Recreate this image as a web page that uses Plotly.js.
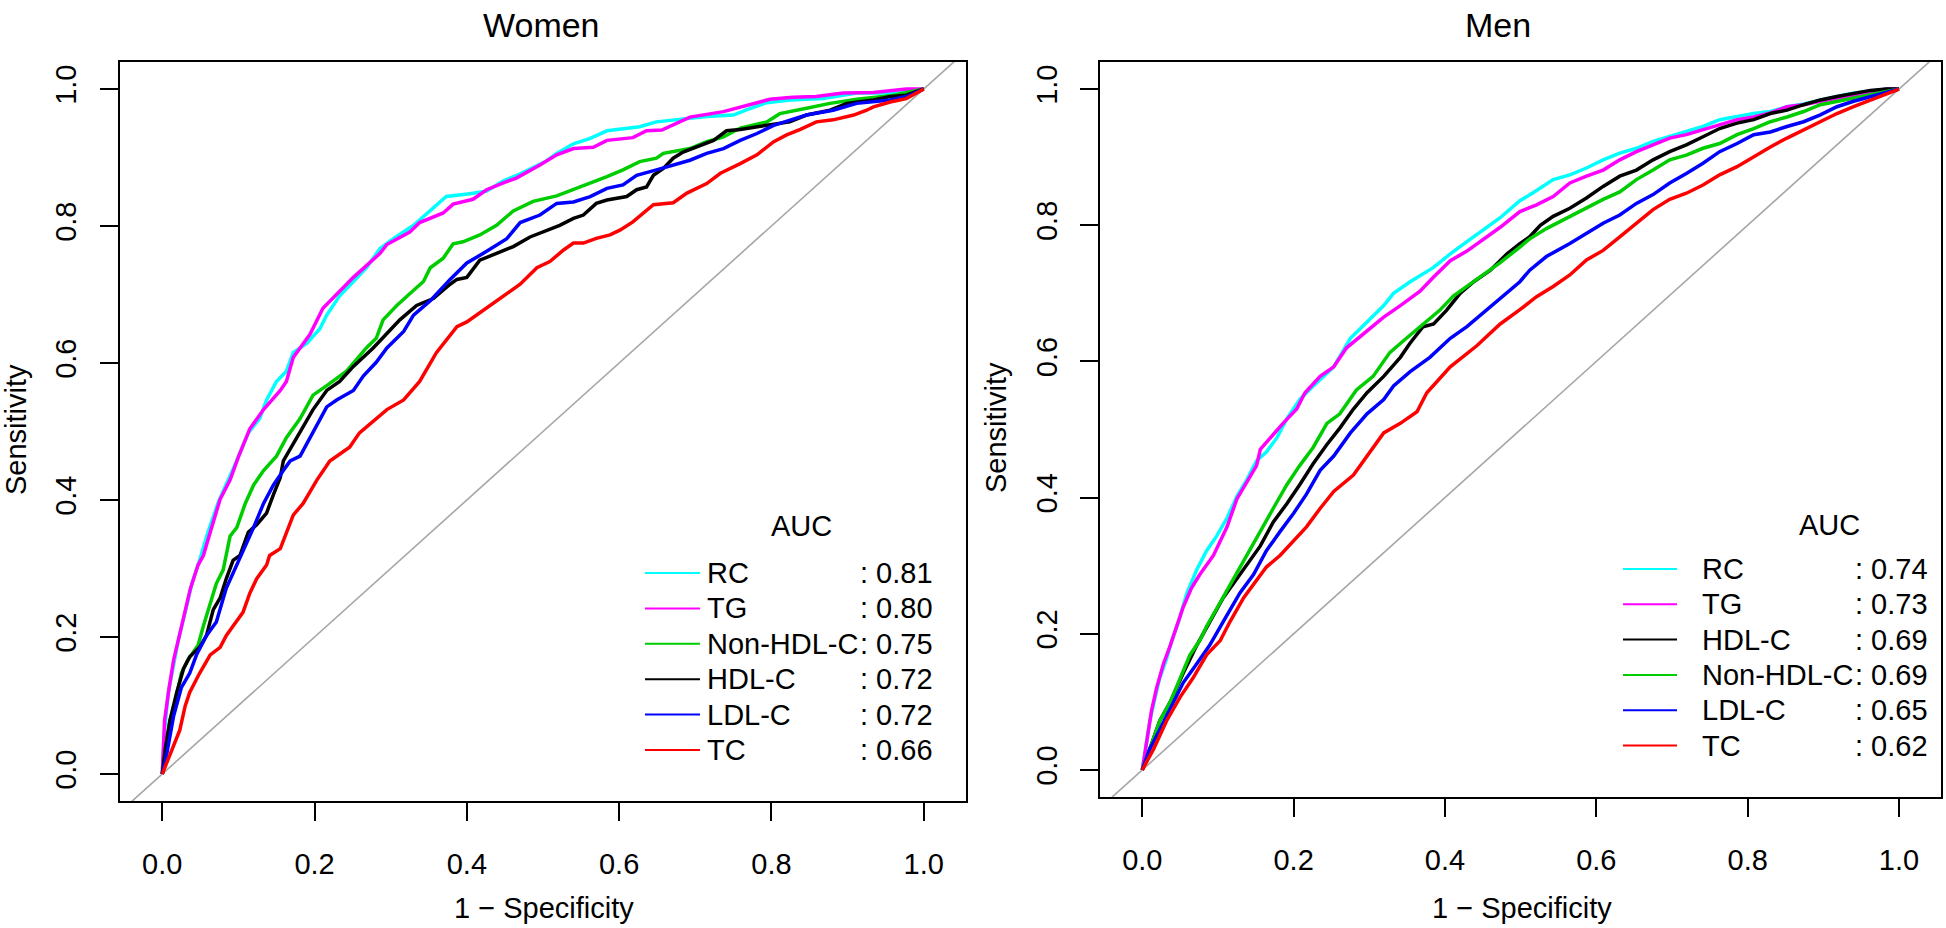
<!DOCTYPE html>
<html>
<head>
<meta charset="utf-8">
<script src="https://cdn.plot.ly/plotly-3.0.1.min.js"></script>
<style>
  html, body { margin: 0; padding: 0; background: #fff; }
  #roc { width: 1946px; height: 928px; }
</style>
</head>
<body>
<div id="roc"></div>
<script>
// ROC CURVES, WOMEN AND MEN

// legend order = drawing order
var womenNames = ['RC', 'TG', 'Non-HDL-C', 'HDL-C', 'LDL-C', 'TC'];
var womenAUC = [0.81, 0.80, 0.75, 0.72, 0.72, 0.66];
var menNames = ['RC', 'TG', 'HDL-C', 'Non-HDL-C', 'LDL-C', 'TC'];
var menAUC = [0.74, 0.73, 0.69, 0.69, 0.65, 0.62];

var tickVals = [0, 0.2, 0.4, 0.6, 0.8, 1.0];

// women: 1 - specificity (x) and sensitivity (y)
var wRC_x = [0, 0.003, 0.008, 0.015, 0.021, 0.030, 0.039, 0.049, 0.060, 0.074, 0.084, 0.095, 0.113, 0.128, 0.137, 0.150, 0.163, 0.172, 0.190, 0.207, 0.216, 0.233, 0.251, 0.268, 0.286, 0.303, 0.330, 0.352, 0.373, 0.404, 0.426, 0.448, 0.470, 0.503, 0.518, 0.540, 0.562, 0.584, 0.605, 0.627, 0.649, 0.671, 0.693, 0.715, 0.750, 0.768, 0.794, 0.824, 0.868, 0.912, 0.956, 1.0];
var wRC_y = [0, 0.064, 0.119, 0.160, 0.195, 0.236, 0.278, 0.312, 0.353, 0.398, 0.422, 0.450, 0.498, 0.519, 0.546, 0.573, 0.588, 0.615, 0.629, 0.650, 0.670, 0.698, 0.719, 0.739, 0.767, 0.781, 0.801, 0.822, 0.843, 0.847, 0.851, 0.866, 0.876, 0.894, 0.906, 0.920, 0.928, 0.939, 0.942, 0.945, 0.952, 0.955, 0.957, 0.960, 0.962, 0.970, 0.980, 0.984, 0.986, 0.994, 0.994, 1.0];

var wTG_x = [0, 0.003, 0.009, 0.015, 0.021, 0.028, 0.037, 0.047, 0.054, 0.063, 0.076, 0.089, 0.100, 0.115, 0.133, 0.155, 0.163, 0.172, 0.194, 0.211, 0.229, 0.251, 0.286, 0.295, 0.325, 0.338, 0.369, 0.382, 0.408, 0.426, 0.448, 0.465, 0.496, 0.518, 0.540, 0.566, 0.584, 0.618, 0.636, 0.656, 0.693, 0.737, 0.798, 0.828, 0.859, 0.894, 0.934, 0.956, 0.977, 1.0];
var wTG_y = [0, 0.078, 0.126, 0.167, 0.195, 0.229, 0.271, 0.305, 0.319, 0.353, 0.401, 0.429, 0.463, 0.504, 0.532, 0.560, 0.573, 0.608, 0.642, 0.680, 0.701, 0.725, 0.760, 0.773, 0.791, 0.805, 0.819, 0.832, 0.839, 0.853, 0.863, 0.870, 0.889, 0.904, 0.913, 0.915, 0.925, 0.929, 0.939, 0.940, 0.959, 0.967, 0.985, 0.988, 0.989, 0.994, 0.995, 0.998, 1.0, 1.0];

var wNon_x = [0, 0.006, 0.010, 0.017, 0.025, 0.034, 0.047, 0.054, 0.063, 0.071, 0.080, 0.084, 0.089, 0.098, 0.109, 0.120, 0.133, 0.150, 0.163, 0.181, 0.198, 0.216, 0.242, 0.268, 0.281, 0.290, 0.308, 0.325, 0.343, 0.352, 0.369, 0.382, 0.395, 0.417, 0.439, 0.461, 0.487, 0.518, 0.540, 0.562, 0.584, 0.605, 0.627, 0.649, 0.658, 0.693, 0.715, 0.737, 0.759, 0.794, 0.811, 0.846, 0.877, 0.912, 0.956, 1.0];
var wNon_y = [0, 0.050, 0.078, 0.105, 0.147, 0.167, 0.188, 0.216, 0.250, 0.278, 0.298, 0.319, 0.347, 0.360, 0.395, 0.422, 0.443, 0.464, 0.491, 0.519, 0.553, 0.567, 0.588, 0.622, 0.636, 0.663, 0.684, 0.701, 0.719, 0.739, 0.753, 0.774, 0.777, 0.787, 0.801, 0.822, 0.836, 0.844, 0.853, 0.862, 0.872, 0.882, 0.894, 0.899, 0.906, 0.913, 0.923, 0.930, 0.943, 0.952, 0.964, 0.972, 0.979, 0.985, 0.990, 1.0];

var wHDL_x = [0, 0.004, 0.010, 0.019, 0.028, 0.036, 0.049, 0.058, 0.067, 0.076, 0.084, 0.093, 0.102, 0.113, 0.124, 0.137, 0.146, 0.155, 0.159, 0.168, 0.185, 0.198, 0.216, 0.233, 0.251, 0.277, 0.295, 0.312, 0.334, 0.356, 0.378, 0.387, 0.400, 0.417, 0.439, 0.461, 0.483, 0.509, 0.522, 0.540, 0.553, 0.570, 0.584, 0.610, 0.623, 0.636, 0.645, 0.658, 0.671, 0.684, 0.706, 0.724, 0.741, 0.759, 0.794, 0.824, 0.846, 0.877, 0.899, 0.934, 0.956, 0.977, 1.0];
var wHDL_y = [0, 0.037, 0.078, 0.119, 0.154, 0.171, 0.185, 0.202, 0.240, 0.257, 0.285, 0.312, 0.319, 0.353, 0.364, 0.381, 0.408, 0.433, 0.457, 0.474, 0.505, 0.532, 0.560, 0.573, 0.595, 0.622, 0.643, 0.663, 0.684, 0.694, 0.715, 0.722, 0.725, 0.750, 0.760, 0.770, 0.784, 0.796, 0.801, 0.811, 0.816, 0.833, 0.838, 0.843, 0.853, 0.857, 0.874, 0.884, 0.899, 0.908, 0.917, 0.925, 0.939, 0.941, 0.947, 0.952, 0.962, 0.969, 0.979, 0.984, 0.989, 0.991, 1.0];

var wLDL_x = [0, 0.006, 0.015, 0.025, 0.036, 0.045, 0.058, 0.071, 0.084, 0.098, 0.109, 0.120, 0.133, 0.146, 0.159, 0.168, 0.181, 0.198, 0.216, 0.229, 0.251, 0.264, 0.281, 0.295, 0.317, 0.330, 0.352, 0.378, 0.400, 0.426, 0.452, 0.470, 0.496, 0.518, 0.540, 0.562, 0.584, 0.605, 0.623, 0.649, 0.671, 0.693, 0.715, 0.737, 0.759, 0.781, 0.803, 0.828, 0.846, 0.881, 0.912, 0.956, 0.977, 1.0];
var wLDL_y = [0, 0.030, 0.085, 0.126, 0.147, 0.174, 0.202, 0.222, 0.271, 0.305, 0.333, 0.360, 0.395, 0.422, 0.443, 0.457, 0.464, 0.498, 0.536, 0.546, 0.560, 0.581, 0.601, 0.622, 0.646, 0.670, 0.691, 0.722, 0.746, 0.763, 0.781, 0.805, 0.816, 0.833, 0.835, 0.843, 0.855, 0.860, 0.874, 0.882, 0.889, 0.896, 0.906, 0.913, 0.925, 0.935, 0.947, 0.955, 0.962, 0.969, 0.979, 0.984, 0.989, 1.0];

var wTC_x = [0, 0.006, 0.015, 0.023, 0.030, 0.036, 0.049, 0.063, 0.076, 0.084, 0.093, 0.106, 0.115, 0.124, 0.137, 0.141, 0.155, 0.163, 0.172, 0.185, 0.203, 0.220, 0.233, 0.246, 0.259, 0.277, 0.295, 0.317, 0.338, 0.360, 0.387, 0.400, 0.426, 0.452, 0.470, 0.492, 0.509, 0.527, 0.540, 0.553, 0.570, 0.588, 0.601, 0.618, 0.645, 0.671, 0.689, 0.715, 0.733, 0.759, 0.781, 0.803, 0.820, 0.838, 0.859, 0.881, 0.908, 0.925, 0.934, 0.956, 0.977, 1.0];
var wTC_y = [0, 0.016, 0.043, 0.064, 0.099, 0.119, 0.147, 0.174, 0.185, 0.202, 0.216, 0.236, 0.264, 0.285, 0.305, 0.319, 0.329, 0.353, 0.378, 0.395, 0.429, 0.457, 0.467, 0.477, 0.498, 0.515, 0.532, 0.546, 0.573, 0.615, 0.653, 0.660, 0.680, 0.701, 0.715, 0.739, 0.748, 0.765, 0.775, 0.775, 0.782, 0.787, 0.794, 0.806, 0.831, 0.834, 0.848, 0.862, 0.877, 0.891, 0.904, 0.923, 0.933, 0.941, 0.952, 0.955, 0.962, 0.969, 0.974, 0.981, 0.986, 1.0];

// men
var mRC_x = [0, 0.006, 0.010, 0.017, 0.023, 0.032, 0.039, 0.048, 0.059, 0.072, 0.085, 0.098, 0.112, 0.125, 0.138, 0.151, 0.164, 0.178, 0.191, 0.208, 0.226, 0.253, 0.275, 0.297, 0.319, 0.332, 0.354, 0.385, 0.407, 0.429, 0.451, 0.473, 0.499, 0.517, 0.543, 0.565, 0.587, 0.609, 0.631, 0.653, 0.675, 0.697, 0.719, 0.741, 0.763, 0.786, 0.808, 0.830, 0.852, 0.874, 0.896, 0.918, 0.940, 0.962, 0.984, 1.0];
var mRC_y = [0, 0.045, 0.072, 0.107, 0.135, 0.163, 0.190, 0.218, 0.260, 0.294, 0.322, 0.343, 0.370, 0.402, 0.426, 0.454, 0.467, 0.488, 0.516, 0.544, 0.564, 0.592, 0.634, 0.658, 0.682, 0.700, 0.717, 0.738, 0.758, 0.776, 0.793, 0.811, 0.836, 0.848, 0.867, 0.874, 0.884, 0.896, 0.906, 0.913, 0.923, 0.930, 0.937, 0.945, 0.955, 0.960, 0.964, 0.967, 0.974, 0.978, 0.984, 0.989, 0.994, 0.997, 1.0, 1.0];

var mTG_x = [0, 0.006, 0.012, 0.019, 0.028, 0.037, 0.045, 0.054, 0.065, 0.076, 0.094, 0.103, 0.112, 0.125, 0.138, 0.151, 0.156, 0.169, 0.186, 0.204, 0.215, 0.235, 0.253, 0.270, 0.297, 0.319, 0.341, 0.367, 0.385, 0.407, 0.429, 0.451, 0.473, 0.499, 0.521, 0.543, 0.565, 0.587, 0.609, 0.631, 0.653, 0.675, 0.697, 0.719, 0.741, 0.763, 0.786, 0.808, 0.830, 0.852, 0.874, 0.896, 0.918, 0.940, 0.962, 0.984, 1.0];
var mTG_y = [0, 0.045, 0.086, 0.121, 0.156, 0.183, 0.211, 0.239, 0.267, 0.287, 0.315, 0.336, 0.357, 0.398, 0.422, 0.447, 0.471, 0.488, 0.509, 0.530, 0.554, 0.578, 0.592, 0.620, 0.644, 0.665, 0.682, 0.703, 0.724, 0.748, 0.762, 0.779, 0.797, 0.820, 0.830, 0.842, 0.862, 0.872, 0.881, 0.896, 0.908, 0.918, 0.928, 0.933, 0.940, 0.947, 0.955, 0.959, 0.965, 0.974, 0.977, 0.982, 0.986, 0.991, 0.996, 1.0, 1.0];

var mHDL_x = [0, 0.010, 0.023, 0.037, 0.054, 0.072, 0.089, 0.107, 0.120, 0.138, 0.156, 0.173, 0.191, 0.208, 0.226, 0.244, 0.261, 0.279, 0.297, 0.319, 0.341, 0.354, 0.371, 0.385, 0.402, 0.420, 0.438, 0.460, 0.482, 0.499, 0.512, 0.526, 0.543, 0.565, 0.587, 0.609, 0.631, 0.653, 0.675, 0.697, 0.719, 0.741, 0.763, 0.786, 0.808, 0.830, 0.852, 0.874, 0.896, 0.918, 0.940, 0.962, 0.984, 1.0];
var mHDL_y = [0, 0.031, 0.072, 0.100, 0.142, 0.183, 0.218, 0.253, 0.273, 0.301, 0.329, 0.364, 0.391, 0.419, 0.450, 0.478, 0.502, 0.530, 0.554, 0.578, 0.606, 0.627, 0.651, 0.655, 0.675, 0.700, 0.717, 0.734, 0.758, 0.773, 0.783, 0.800, 0.813, 0.825, 0.840, 0.857, 0.872, 0.881, 0.896, 0.908, 0.918, 0.930, 0.942, 0.950, 0.955, 0.964, 0.969, 0.977, 0.984, 0.989, 0.994, 0.998, 1.0, 1.0];

var mNon_x = [0, 0.010, 0.023, 0.037, 0.050, 0.063, 0.076, 0.085, 0.103, 0.120, 0.138, 0.156, 0.173, 0.191, 0.208, 0.226, 0.244, 0.261, 0.283, 0.305, 0.327, 0.349, 0.371, 0.393, 0.411, 0.429, 0.451, 0.473, 0.499, 0.512, 0.534, 0.565, 0.587, 0.609, 0.631, 0.653, 0.675, 0.697, 0.719, 0.741, 0.763, 0.786, 0.808, 0.830, 0.852, 0.874, 0.896, 0.918, 0.940, 0.962, 0.984, 1.0];
var mNon_y = [0, 0.031, 0.072, 0.100, 0.135, 0.169, 0.190, 0.211, 0.246, 0.280, 0.315, 0.350, 0.384, 0.419, 0.447, 0.474, 0.509, 0.523, 0.558, 0.578, 0.613, 0.634, 0.655, 0.675, 0.696, 0.710, 0.727, 0.745, 0.768, 0.780, 0.795, 0.813, 0.825, 0.838, 0.849, 0.867, 0.881, 0.896, 0.903, 0.913, 0.920, 0.933, 0.942, 0.952, 0.959, 0.967, 0.977, 0.982, 0.986, 0.991, 0.996, 1.0];

var mLDL_x = [0, 0.010, 0.023, 0.041, 0.054, 0.072, 0.089, 0.107, 0.129, 0.147, 0.164, 0.182, 0.200, 0.217, 0.235, 0.253, 0.275, 0.297, 0.319, 0.332, 0.354, 0.380, 0.407, 0.429, 0.451, 0.473, 0.499, 0.512, 0.534, 0.565, 0.587, 0.609, 0.631, 0.653, 0.675, 0.697, 0.719, 0.741, 0.763, 0.786, 0.808, 0.830, 0.852, 0.874, 0.896, 0.918, 0.940, 0.962, 0.984, 1.0];
var mLDL_y = [0, 0.031, 0.059, 0.100, 0.128, 0.156, 0.183, 0.218, 0.260, 0.287, 0.322, 0.350, 0.377, 0.405, 0.440, 0.461, 0.495, 0.523, 0.544, 0.564, 0.585, 0.606, 0.634, 0.651, 0.672, 0.693, 0.717, 0.734, 0.754, 0.773, 0.788, 0.803, 0.815, 0.832, 0.845, 0.862, 0.876, 0.891, 0.908, 0.920, 0.933, 0.937, 0.945, 0.952, 0.962, 0.974, 0.982, 0.989, 0.996, 1.0];

var mTC_x = [0, 0.015, 0.032, 0.050, 0.067, 0.085, 0.103, 0.116, 0.134, 0.147, 0.164, 0.182, 0.200, 0.217, 0.235, 0.253, 0.279, 0.297, 0.319, 0.341, 0.363, 0.376, 0.407, 0.442, 0.473, 0.499, 0.521, 0.543, 0.565, 0.587, 0.609, 0.631, 0.653, 0.675, 0.697, 0.719, 0.741, 0.763, 0.786, 0.808, 0.830, 0.852, 0.874, 0.896, 0.918, 0.940, 0.962, 0.984, 1.0];
var mTC_y = [0, 0.031, 0.072, 0.107, 0.135, 0.169, 0.190, 0.218, 0.253, 0.273, 0.298, 0.315, 0.336, 0.357, 0.384, 0.409, 0.433, 0.461, 0.495, 0.509, 0.526, 0.554, 0.592, 0.623, 0.655, 0.676, 0.695, 0.710, 0.727, 0.749, 0.763, 0.783, 0.803, 0.823, 0.838, 0.847, 0.859, 0.874, 0.886, 0.901, 0.915, 0.928, 0.940, 0.952, 0.964, 0.974, 0.984, 0.994, 1.0];

var womenX = {'RC': wRC_x, 'TG': wTG_x, 'Non-HDL-C': wNon_x, 'HDL-C': wHDL_x, 'LDL-C': wLDL_x, 'TC': wTC_x};
var womenY = {'RC': wRC_y, 'TG': wTG_y, 'Non-HDL-C': wNon_y, 'HDL-C': wHDL_y, 'LDL-C': wLDL_y, 'TC': wTC_y};
var menX = {'RC': mRC_x, 'TG': mTG_x, 'Non-HDL-C': mNon_x, 'HDL-C': mHDL_x, 'LDL-C': mLDL_x, 'TC': mTC_x};
var menY = {'RC': mRC_y, 'TG': mTG_y, 'Non-HDL-C': mNon_y, 'HDL-C': mHDL_y, 'LDL-C': mLDL_y, 'TC': mTC_y};

var colors = {'RC': '#00FFFF', 'TG': '#FF00FF', 'Non-HDL-C': '#00CD00', 'HDL-C': '#000000', 'LDL-C': '#0000FF', 'TC': '#FF0000'};

var W = 1946, H = 928;
var FONT = 'Liberation Sans, Arial, Helvetica, sans-serif';
var xRange = [-0.0555, 1.0555];
var yRange = [-0.04, 1.04];

var data = [];
womenNames.forEach(function (n) {
  data.push({x: womenX[n], y: womenY[n], type: 'scatter', mode: 'lines', name: n,
             xaxis: 'x', yaxis: 'y', line: {color: colors[n], width: 3.5}, hoverinfo: 'skip'});
});
menNames.forEach(function (n) {
  data.push({x: menX[n], y: menY[n], type: 'scatter', mode: 'lines', name: n,
             xaxis: 'x2', yaxis: 'y2', line: {color: colors[n], width: 3.5}, hoverinfo: 'skip'});
});

function xAxis(domain, anchor) {
  return {domain: domain, anchor: anchor, range: xRange, tickvals: tickVals, tickformat: '.1f',
          ticks: 'outside', ticklen: 18, tickwidth: 2, tickcolor: '#000',
          showline: true, linewidth: 2, linecolor: '#000', mirror: true,
          showgrid: false, zeroline: false, ticklabelstandoff: 18,
          tickfont: {family: FONT, size: 29, color: '#000'}};
}
function yAxis(domain, anchor) {
  return {domain: domain, anchor: anchor, range: yRange, tickvals: tickVals, tickformat: '.1f',
          ticks: 'outside', ticklen: 18, tickwidth: 2, tickcolor: '#000', tickangle: -90,
          showline: true, linewidth: 2, linecolor: '#000', mirror: true,
          showgrid: false, zeroline: false, ticklabelstandoff: 12,
          tickfont: {family: FONT, size: 29, color: '#000'}};
}

var shapes = [];
var annotations = [];

// chance line y = x, across the whole box
var d0 = Math.max(xRange[0], yRange[0]), d1 = Math.min(xRange[1], yRange[1]);
[['x', 'y'], ['x2', 'y2']].forEach(function (r) {
  shapes.push({type: 'line', xref: r[0], yref: r[1], x0: d0, y0: d0, x1: d1, y1: d1,
               layer: 'below', line: {color: '#A6A6A6', width: 1.6}});
});

function txt(s, px, py, opts) {
  var a = {text: s, x: px / W, y: 1 - py / H, xref: 'paper', yref: 'paper', showarrow: false,
           xanchor: 'center', yanchor: 'middle', font: {family: FONT, size: 29, color: '#000'}};
  for (var k in opts) a[k] = opts[k];
  return a;
}

// titles and axis titles
annotations.push(txt('Women', 541, 25, {font: {family: FONT, size: 34, color: '#000'}}));
annotations.push(txt('Men', 1498, 25, {font: {family: FONT, size: 34, color: '#000'}}));
annotations.push(txt('1 \u2212 Specificity', 544, 908, {}));
annotations.push(txt('1 \u2212 Specificity', 1522, 908, {}));
annotations.push(txt('Sensitivity', 16, 430, {textangle: -90}));
annotations.push(txt('Sensitivity', 996, 428, {textangle: -90}));

// legends
function addLegend(names, aucs, L) {
  annotations.push(txt('AUC', L.headX, L.headY, {}));
  names.forEach(function (n, i) {
    var py = L.rowY + i * L.gap;
    shapes.push({type: 'line', xref: 'paper', yref: 'paper', x0: L.lx0 / W, x1: L.lx1 / W,
                 y0: 1 - py / H, y1: 1 - py / H, line: {color: colors[n], width: 2}});
    annotations.push(txt(n, L.textX, py, {xanchor: 'left'}));
    annotations.push(txt(': ' + aucs[i].toFixed(2), L.valX, py, {xanchor: 'left'}));
  });
}
addLegend(womenNames, womenAUC, {headX: 801, headY: 526, rowY: 573, gap: 35.4, lx0: 645, lx1: 700, textX: 705, valX: 858});
addLegend(menNames, menAUC, {headX: 1829, headY: 525, rowY: 569, gap: 35.3, lx0: 1623, lx1: 1677, textX: 1700, valX: 1853});

var layout = {
  width: W, height: H,
  margin: {l: 0, r: 0, t: 0, b: 0, pad: 0},
  paper_bgcolor: '#fff', plot_bgcolor: '#fff',
  showlegend: false,
  xaxis: xAxis([120 / W, 966 / W], 'y'),
  yaxis: yAxis([1 - 801.4 / H, 1 - 61.6 / H], 'x'),
  xaxis2: xAxis([1100.3 / W, 1941 / W], 'y2'),
  yaxis2: yAxis([1 - 797.2 / H, 1 - 61.8 / H], 'x2'),
  shapes: shapes,
  annotations: annotations
};

Plotly.newPlot('roc', data, layout, {displayModeBar: false, staticPlot: true});
</script>
</body>
</html>
